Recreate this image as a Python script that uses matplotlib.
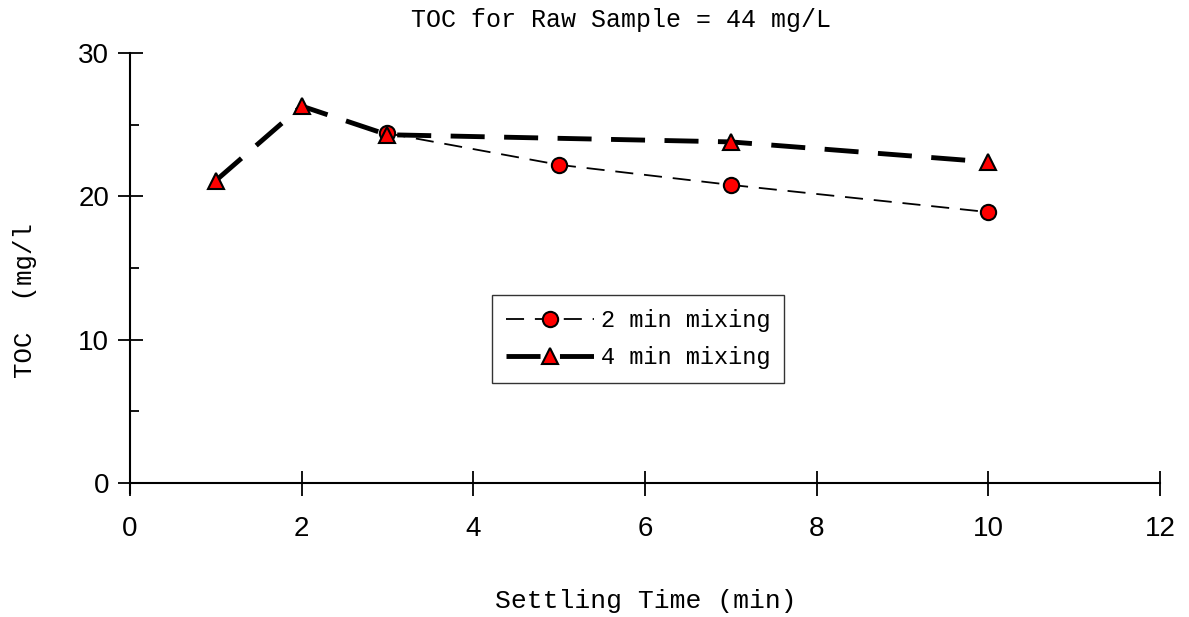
import numpy as np
import matplotlib.pyplot as plt
from matplotlib.ticker import MultipleLocator

# settling time (min) and TOC (mg/l)
t_2min = [3, 5, 7, 10]
toc_2min = [24.4, 22.2, 20.8, 18.9]
t_4min = [1, 2, 3, 7, 10]
toc_4min = [21.1, 26.3, 24.3, 23.8, 22.4]

mono = 'Liberation Mono'

fig = plt.figure(figsize=(11.89, 6.17), dpi=100)
ax = fig.add_axes([0.1093, 0.201, 0.8663, 0.713])

ax.plot(t_2min, toc_2min, color='black', lw=1.3, dashes=(10, 6),
        marker='o', ms=11, mfc='red', mec='black', mew=1.5, label='2 min mixing')
ax.plot(t_4min, toc_4min, color='black', lw=3.5, dashes=(7, 4),
        marker='^', ms=11, mfc='red', mec='black', mew=1.5, label='4 min mixing')

ax.set_xlim(0, 12)
ax.set_ylim(-0.7, 30)
ax.spines['top'].set_visible(False)
ax.spines['right'].set_visible(False)
ax.spines['bottom'].set_position(('data', 0))
ax.spines['bottom'].set_linewidth(1.5)
ax.spines['left'].set_linewidth(1.5)

ax.xaxis.set_major_locator(MultipleLocator(2))
ax.yaxis.set_major_locator(MultipleLocator(10))
ax.yaxis.set_minor_locator(MultipleLocator(5))
ax.tick_params(axis='both', which='major', direction='inout', length=18, width=1.3,
               labelsize=20, labelfontfamily='Liberation Sans')
ax.tick_params(axis='x', pad=15)
ax.tick_params(axis='y', pad=6)
ax.tick_params(axis='y', which='minor', direction='in', length=6.5, width=1.3)
ax.tick_params(axis='x', which='minor', length=0)

fig.text(646 / 1189, 1 - 601 / 617, 'Settling Time (min)', fontfamily=mono,
         fontsize=19, ha='center', va='center')
fig.text(25 / 1189, 1 - 301 / 617, 'TOC  (mg/l', fontfamily=mono, fontsize=18.5,
         rotation=90, ha='center', va='center')
fig.text(621 / 1189, 1 - 20 / 617, 'TOC for Raw Sample = 44 mg/L', fontfamily=mono,
         fontsize=18, ha='center', va='center')

leg = ax.legend(loc='upper left', bbox_to_anchor=(4.22, 13.12),
                bbox_transform=ax.transData, prop={'family': mono, 'size': 17},
                frameon=True, fancybox=False, edgecolor='black', borderaxespad=0,
                handlelength=3.7, borderpad=0.6, labelspacing=0.6,
                handletextpad=0.3)
leg.get_frame().set_linewidth(1.0)

fig.savefig('out.png', dpi=100)
